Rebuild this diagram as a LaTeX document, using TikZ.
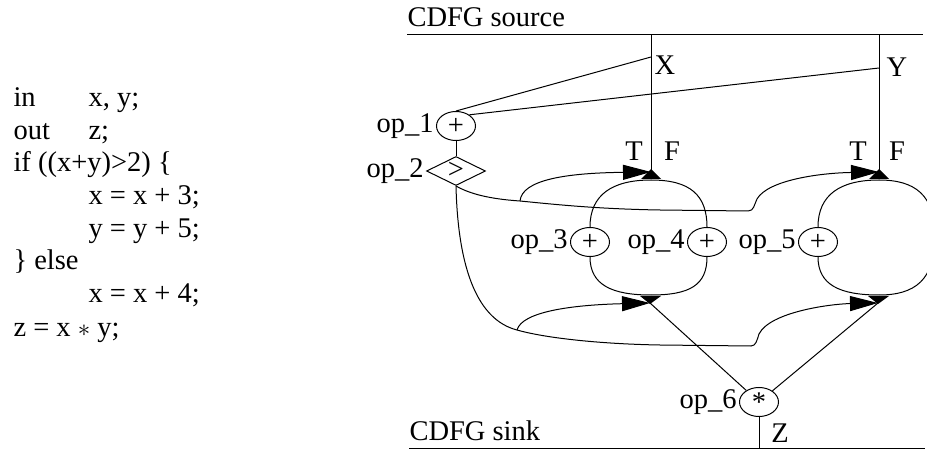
\documentclass[tikz,border=0pt]{standalone}
\usepackage{fontspec}
\setmainfont{Liberation Serif}
\usetikzlibrary{arrows.meta,shapes.geometric}
\begin{document}
\begin{tikzpicture}[x=1pt,y=-1pt,line width=1pt,
  font=\fontsize{28.5}{33}\selectfont,
  op/.style={draw,ellipse,minimum width=39pt,minimum height=29pt,inner sep=0pt},
  cmp/.style={draw,diamond,minimum width=59pt,minimum height=29pt,inner sep=0pt},
  tri/.style={-{Triangle[length=28pt,width=15pt]}},
  lbl/.style={inner sep=0pt},
  oplbl/.style={label={[lbl,label distance=2pt]left:#1}},
  code/.style={anchor=base west,inner sep=0pt}]
\useasboundingbox (0,0) rectangle (927,449);
\clip (0,0) rectangle (927,449);

% code listing
\node[code] (c1)  at (13,107) {in};
\node[code] (c1b) at (88,107) {x, y;};
\node[code] (c2)  at (13,140) {out};
\node[code] (c2b) at (88,140) {z;};
\node[code] (c3)  at (13,172) {if ((x+y)>2) \{};
\node[code] (c4)  at (88,205) {x = x + 3;};
\node[code] (c5)  at (88,238) {y = y + 5;};
\node[code] (c6)  at (13,270) {\} else};
\node[code] (c7)  at (88,303) {x = x + 4;};
\node[code] (c8)  at (13,336) {z = x $*$ y;};

% source and sink
\node[code] (src) at (407,27) {CDFG source};
\coordinate (srcL) at (407,35);
\coordinate (srcR) at (923,35);
\draw (srcL) -- (srcR);
\node[code] (snk) at (409,440) {CDFG sink};
\coordinate (snkL) at (409,448);
\coordinate (snkR) at (925,448);
\draw (snkL) -- (snkR);

% inputs
\coordinate (xtop) at (651,35);
\coordinate (ytop) at (879,35);
\coordinate (xin) at (651,57);
\coordinate (yin) at (879,68);
\coordinate (m1t) at (651,172);
\coordinate (m2t) at (879,172);
\coordinate (m1b) at (650,303);
\coordinate (m2b) at (878,303);
\node[lbl] (lx) at (665,65) {X};
\node[lbl] (ly) at (897,67) {Y};
\node[lbl] (t1) at (634,151) {T};
\node[lbl] (f1) at (672,151) {F};
\node[lbl] (t2) at (858,151) {T};
\node[lbl] (f2) at (897,151) {F};
\draw (xtop) -- (m1t);
\draw (ytop) -- (m2t);

% operations
\node[op,oplbl=op\_1] (op1) at (456,126) {+};
\node[cmp,oplbl=op\_2] (op2) at (456,171) {\smash{\raisebox{-0.25em}{>}}};
\node[op,oplbl=op\_3] (op3) at (590,242) {+};
\node[op,oplbl=op\_4] (op4) at (707,242) {+};
\node[op,oplbl=op\_5] (op5) at (818,242) {+};
\node[op,oplbl=op\_6] (op6) at (759,402) {*};

\draw (op1.north) -- (xin);
\draw (op1.40) -- (yin);
\draw (op1.south) -- (op2.north);

% mux 1 loop
\coordinate (j1t) at (651,180);
\coordinate (j1b) at (651,295);
\draw (op3.north) .. controls (590,195) and (612,180) .. (j1t);
\draw (op4.north) .. controls (707,195) and (690,180) .. (j1t);
\draw (op3.south) .. controls (590,285) and (612,295) .. (j1b);
\draw (op4.south) .. controls (707,285) and (690,295) .. (j1b);
\fill (641,179) -- (651,169) -- (661,179) -- cycle;
\fill (640,296) -- (661,296) -- (650,304) -- cycle;

% mux 2 loop
\coordinate (j2t) at (879,180);
\coordinate (j2b) at (879,295);
\draw (op5.north) .. controls (818,195) and (840,180) .. (j2t);
\draw (op5.south) .. controls (818,285) and (840,295) .. (j2b);
\draw (j2t) .. controls (915,180) and (935,195) .. (935,236)
            .. controls (935,280) and (915,295) .. (j2b);
\fill (869,179) -- (879,169) -- (889,179) -- cycle;
\fill (868,296) -- (889,296) -- (878,304) -- cycle;

% control edges from op_2
\coordinate (b1) at (520,201);
\coordinate (b2) at (517,330);
\draw[tri] (op2.south) .. controls (470,194) and (490,199) .. (b1)
   .. controls (560,205) and (600,209) .. (660,210) -- (748,211)
   .. controls (754,211) and (754,205) .. (757,199)
   .. controls (768,180) and (820,173) .. (m2t);
\draw[tri] (b1) .. controls (522,180) and (565,173) .. (m1t);
\draw[tri] (op2.south) .. controls (458,270) and (478,320) .. (b2)
   .. controls (545,338) and (600,344) .. (660,345) -- (751,346)
   .. controls (756,346) and (757,340) .. (759,334)
   .. controls (770,312) and (830,304) .. (m2b);
\draw[tri] (b2) .. controls (522,312) and (570,305) .. (m1b);

% data to op_6 and output
\draw (m1b) -- (op6);
\draw (m2b) -- (op6);
\coordinate (zout) at (759,448);
\draw (op6) -- (zout);
\node[lbl] (lz) at (780,433) {Z};
\end{tikzpicture}
\end{document}
